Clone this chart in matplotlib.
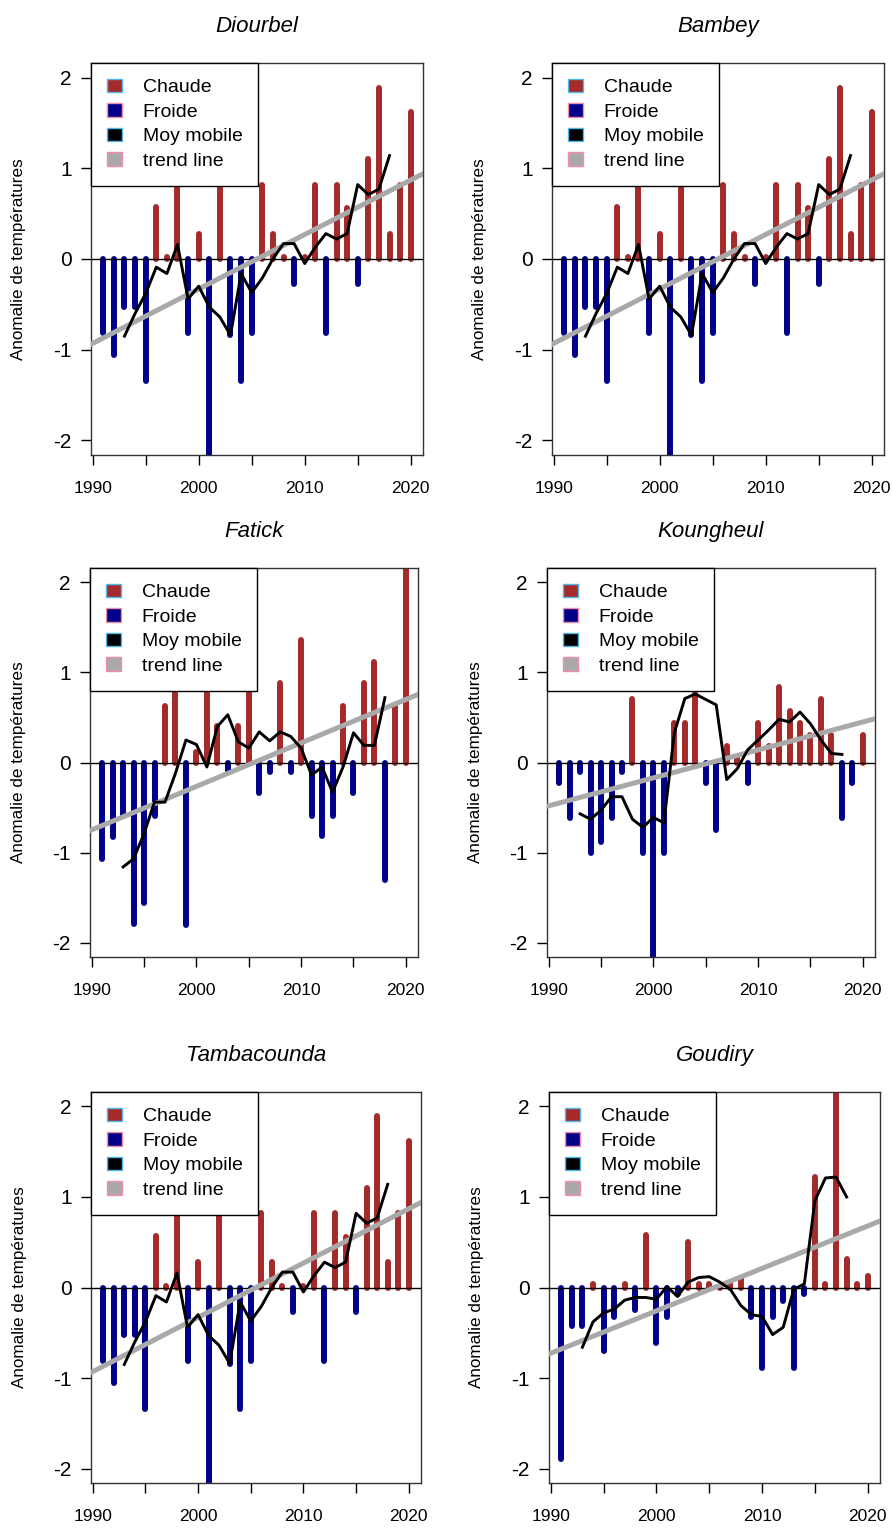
import matplotlib
matplotlib.use("Agg")
import matplotlib.pyplot as plt
from matplotlib.patches import Patch
import numpy as np

plt.rcParams['font.family'] = ['Liberation Sans', 'DejaVu Sans']
plt.rcParams['axes.unicode_minus'] = False

# annual anomalies 1991-2020, moving average 1993-2018
years = np.arange(1991, 2021)
ma_years = np.arange(1993, 2019)

diourbel = [-0.81, -1.06, -0.53, -0.53, -1.34, 0.57, 0.02, 0.82, -0.81, 0.28,
            -2.50, 0.82, -0.84, -1.34, -0.81, 0.82, 0.28, 0.02, -0.27, 0.02,
            0.82, -0.81, 0.82, 0.56, -0.27, 1.10, 1.89, 0.28, 0.82, 1.62]
diourbel_ma = [-0.85, -0.60, -0.38, -0.09, -0.16, 0.16, -0.44, -0.30, -0.53, -0.64,
               -0.84, -0.16, -0.37, -0.21, 0.00, 0.17, 0.17, -0.05, 0.13, 0.28,
               0.22, 0.28, 0.82, 0.71, 0.77, 1.14]
diourbel_trend = [-0.87, 0.87]

fatick = [-1.07, -0.83, -0.59, -1.79, -1.56, -0.59, 0.63, 1.10, -1.80, 0.12,
          1.19, 0.40, -0.09, 0.40, 0.80, -0.34, -0.11, 0.88, -0.11, 1.36,
          -0.59, -0.82, -0.59, 0.63, -0.34, 0.88, 1.12, -1.31, 0.63, 2.30]
fatick_ma = [-1.16, -1.07, -0.79, -0.44, -0.44, -0.12, 0.25, 0.20, -0.05, 0.40,
             0.53, 0.23, 0.16, 0.34, 0.24, 0.34, 0.29, 0.16, -0.14, -0.05,
             -0.33, -0.05, 0.33, 0.19, 0.19, 0.72]
fatick_trend = [-0.70, 0.70]

koungheul = [-0.23, -0.62, -0.10, -1.01, -0.88, -0.62, -0.10, 0.70, -1.01, -2.20,
             -1.01, 0.44, 0.44, 0.77, -0.23, -0.75, 0.18, 0.05, -0.23, 0.44,
             0.18, 0.84, 0.57, 0.44, 0.30, 0.70, 0.31, -0.62, -0.23, 0.31]
koungheul_ma = [-0.57, -0.63, -0.53, -0.38, -0.38, -0.63, -0.72, -0.61, -0.67, 0.33,
                0.71, 0.76, 0.70, 0.64, -0.19, -0.07, 0.14, 0.25, 0.36, 0.48,
                0.45, 0.56, 0.43, 0.25, 0.10, 0.09]
koungheul_trend = [-0.45, 0.45]

goudiry = [-1.89, -0.43, -0.43, 0.04, -0.70, -0.33, 0.04, -0.25, 0.58, -0.61,
           -0.33, -0.07, 0.50, 0.04, 0.04, 0.02, 0.04, 0.11, -0.33, -0.89,
           -0.33, -0.15, -0.89, -0.07, 1.22, 0.04, 2.30, 0.31, 0.04, 0.13]
goudiry_ma = [-0.66, -0.38, -0.28, -0.24, -0.14, -0.11, -0.11, -0.13, 0.01, -0.10,
              0.06, 0.11, 0.12, 0.06, -0.02, -0.20, -0.30, -0.32, -0.52, -0.44,
              -0.02, 0.04, 0.96, 1.21, 1.22, 1.00]
goudiry_trend = [-0.68, 0.68]

stations = ["Diourbel", "Bambey", "Fatick", "Koungheul", "Tambacounda", "Goudiry"]
values = [diourbel, diourbel, fatick, koungheul, diourbel, goudiry]
moving = [diourbel_ma, diourbel_ma, fatick_ma, koungheul_ma, diourbel_ma, goudiry_ma]
trends = [diourbel_trend, diourbel_trend, fatick_trend, koungheul_trend,
          diourbel_trend, goudiry_trend]

W, H = 892, 1528
# panel boxes in pixels: left, top, right, bottom
boxes = [(91, 63, 423, 455), (552, 63, 884, 455),
         (90, 568, 418, 957), (547, 568, 875, 957),
         (91, 1092, 421, 1483), (549, 1092, 880, 1483)]

HOT = '#A52A2A'
COLD = '#00008B'
GREY = '#A9A9A9'
BLUE_EDGE = '#4FB8EC'
PINK_EDGE = '#F28CA8'

fig = plt.figure(figsize=(W / 100, H / 100), dpi=100)

for name, vals, ma, tr, (l, t, r, b) in zip(stations, values, moving, trends, boxes):
    ax = fig.add_axes([l / W, 1 - b / H, (r - l) / W, (b - t) / H])
    vals = np.array(vals)
    hot = vals >= 0
    lc = ax.vlines(years[hot], 0, vals[hot], color=HOT, lw=4.3, zorder=2)
    lc.set_capstyle('round')
    lc = ax.vlines(years[~hot], 0, vals[~hot], color=COLD, lw=4.3, zorder=2)
    lc.set_capstyle('round')
    ax.axhline(0, color='black', lw=1, zorder=3)
    ax.axline((years[0], tr[0]), (years[-1], tr[1]), color=GREY, lw=3.6, zorder=4)
    ax.plot(ma_years, ma, color='black', lw=2.1, zorder=5)

    ax.set_xlim(1989.84, 2021.16)
    ax.set_ylim(-2.16, 2.16)
    ax.set_xticks(range(1990, 2021, 5))
    ax.set_xticklabels(['1990', '', '2000', '', '2010', '', '2020'])
    ax.set_yticks([-2, -1, 0, 1, 2])
    ax.tick_params(axis='x', direction='out', length=7, width=1, pad=12,
                   labelsize=12.5)
    ax.tick_params(axis='y', direction='out', length=7, width=1, pad=7,
                   labelsize=15)
    for s in ax.spines.values():
        s.set_color('#333333')
        s.set_linewidth(1)
    ax.set_ylabel("Anomalie de températures", fontsize=12.3)
    ax.yaxis.set_label_coords(-0.195, 0.5)
    ax.set_title(name, style='italic', fontsize=16, pad=22)

    handles = [Patch(fc=HOT, ec=BLUE_EDGE), Patch(fc=COLD, ec=PINK_EDGE),
               Patch(fc='black', ec=BLUE_EDGE), Patch(fc=GREY, ec=PINK_EDGE)]
    leg = ax.legend(handles, ["Chaude", "Froide", "Moy mobile", "trend line"],
                    loc='upper left', bbox_to_anchor=(0, 1), borderaxespad=0,
                    fancybox=False, edgecolor='black', framealpha=1,
                    fontsize=14, handlelength=0.8, handleheight=0.7,
                    handletextpad=1.05, borderpad=0.8, labelspacing=0.36)
    leg.get_frame().set_linewidth(1)
    leg.set_zorder(10)

fig.savefig("out.png", dpi=100)
